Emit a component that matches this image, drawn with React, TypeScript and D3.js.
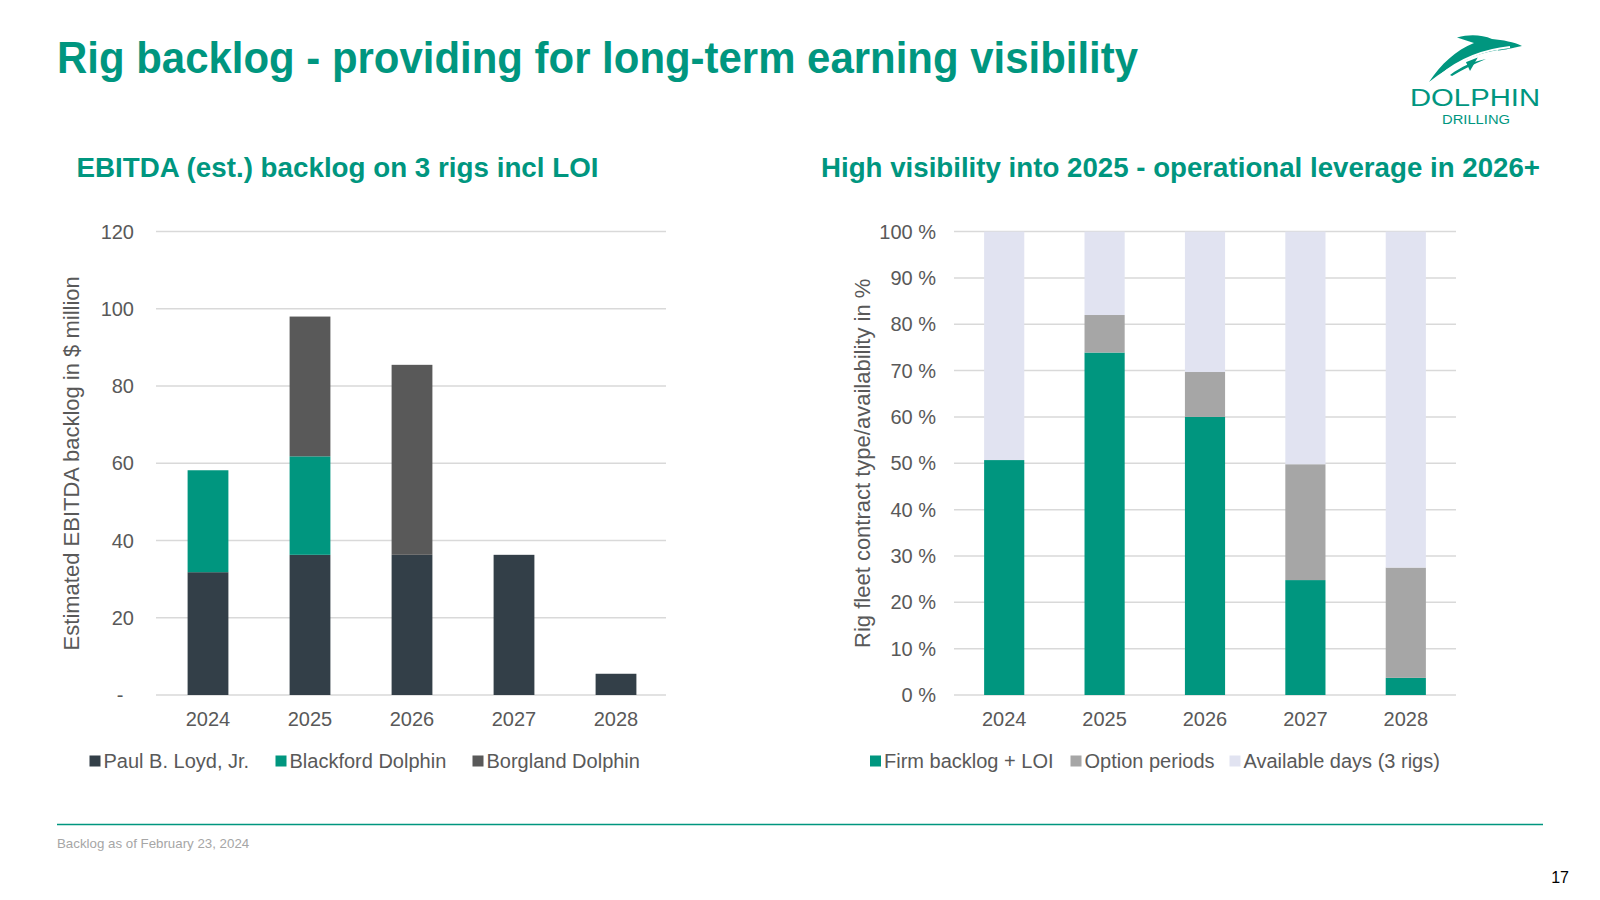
import React from "react";
import * as d3 from "d3";

const years = ["2024", "2025", "2026", "2027", "2028"];
const paulLoyd = [31.8, 36.3, 36.3, 36.3, 5.5];
const blackford = [26.4, 25.5, 0, 0, 0];
const borgland = [0, 36.2, 49.2, 0, 0];
const leftTicks = [0, 20, 40, 60, 80, 100, 120];

const firmBacklog = [50.7, 73.9, 60.0, 24.8, 3.7];
const optionPeriods = [0, 8.1, 9.7, 25.0, 23.8];
const availableDays = firmBacklog.map((f, i) => 100 - f - optionPeriods[i]);
const rightTicks = [0, 10, 20, 30, 40, 50, 60, 70, 80, 90, 100];

const leftSeries = [
  { name: "Paul B. Loyd, Jr.", values: paulLoyd, color: "#333F48" },
  { name: "Blackford Dolphin", values: blackford, color: "#00967F" },
  { name: "Borgland Dolphin", values: borgland, color: "#595959" },
];
const rightSeries = [
  { name: "Firm backlog + LOI", values: firmBacklog, color: "#00967F" },
  { name: "Option periods", values: optionPeriods, color: "#A6A6A6" },
  { name: "Available days (3 rigs)", values: availableDays, color: "#E1E3F1" },
];

const FONT = "'Liberation Sans', Arial, sans-serif";
const TEAL = "#00967F";
const GRID = "#D9D9D9";
const LABEL = "#595959";

function StackedChart({ series, ticks, domainMax, x0, x1, barShift, yTop, yBottom, tickFmt, tickX, zeroX, axisTitle, axisTitleX, legendX, legendY }: any) {
  const x = d3.scaleBand().domain(years).range([x0 + barShift, x1 + barShift]).paddingInner(0.6).paddingOuter(0.3);
  const y = d3.scaleLinear().domain([0, domainMax]).range([yBottom, yTop]);
  const stackData = years.map((yr, i) => {
    const o: any = { year: yr };
    series.forEach((s: any) => (o[s.name] = s.values[i]));
    return o;
  });
  const stacked = d3.stack().keys(series.map((s: any) => s.name))(stackData as any);
  return (
    <g>
      {ticks.map((t: number) => (
        <g key={t}>
          <line x1={x0} x2={x1} y1={y(t)} y2={y(t)} stroke={GRID} strokeWidth={1.5} />
          <text x={t === 0 && zeroX ? zeroX : tickX} y={y(t)} dy="0.35em" textAnchor="end" fontSize={20} fill={LABEL} fontFamily={FONT}>
            {tickFmt(t)}
          </text>
        </g>
      ))}
      {stacked.map((layer: any, li: number) => (
        <g key={li} fill={series[li].color}>
          {layer.map((d: any, i: number) =>
            d[1] - d[0] > 0 ? (
              <rect key={i} x={x(years[i])} width={x.bandwidth()} y={y(d[1])} height={y(d[0]) - y(d[1])} />
            ) : null
          )}
        </g>
      ))}
      {years.map((yr) => (
        <text key={yr} x={(x(yr) as number) + x.bandwidth() / 2} y={yBottom + 31} textAnchor="middle" fontSize={20} fill={LABEL} fontFamily={FONT}>
          {yr}
        </text>
      ))}
      <text transform={`translate(${axisTitleX},${(yTop + yBottom) / 2}) rotate(-90)`} textAnchor="middle" fontSize={22} fill={LABEL} fontFamily={FONT}>
        {axisTitle}
      </text>
      {series.map((s: any, i: number) => (
        <g key={s.name}>
          <rect x={legendX[i]} y={legendY - 5.5} width={11} height={11} fill={s.color} />
          <text x={legendX[i] + 14} y={legendY} dy="0.35em" fontSize={20} fill={LABEL} fontFamily={FONT}>
            {s.name}
          </text>
        </g>
      ))}
    </g>
  );
}

export default function App() {
  return (
    <svg width={1600} height={900} style={{ position: "absolute", left: 0, top: 0, background: "#fff" }}>
      <rect width={1600} height={900} fill="#fff" />
      <text x={57} y={73} fontSize={43.5} fontWeight="bold" fill={TEAL} fontFamily={FONT} textLength={1081} lengthAdjust="spacingAndGlyphs">
        Rig backlog - providing for long-term earning visibility
      </text>
      <text x={76.5} y={176.5} fontSize={28} fontWeight="bold" fill={TEAL} fontFamily={FONT} textLength={522} lengthAdjust="spacingAndGlyphs">
        EBITDA (est.) backlog on 3 rigs incl LOI
      </text>
      <text x={821} y={176.5} fontSize={28} fontWeight="bold" fill={TEAL} fontFamily={FONT} textLength={719} lengthAdjust="spacingAndGlyphs">
        High visibility into 2025 - operational leverage in 2026+
      </text>

      {/* logo */}
      <g fill={TEAL}>
        <path d="M1429,82 C1441,64 1456,50 1474,43 L1457,37.5 C1470,34 1482,35 1492,39 C1503,40 1514,42 1522,46 C1512,48 1505,50 1498,50.5 C1476,53 1452,64 1429,82 Z" />
        <path d="M1465,60 L1470,71 L1478,57 Z" />
        <path d="M1450,75 C1462,66 1472,62 1486,59 C1474,64 1464,69 1452,76 Z" />
        <path d="M1441,75 C1460,59 1482,50 1510,47" fill="none" stroke="#fff" strokeWidth={2.2} />
        <path d="M1456,66 C1470,58 1484,54 1498,51" fill="none" stroke="#fff" strokeWidth={1.8} />
        <text x={1410} y={106} fontSize={23.5} fontFamily={FONT} textLength={130} lengthAdjust="spacingAndGlyphs">DOLPHIN</text>
        <text x={1442} y={123.5} fontSize={12} fontFamily={FONT} textLength={68} lengthAdjust="spacingAndGlyphs">DRILLING</text>
      </g>

      <StackedChart
        series={leftSeries}
        ticks={leftTicks}
        domainMax={120}
        x0={156}
        x1={666}
        barShift={1}
        yTop={231.6}
        yBottom={695}
        tickFmt={(t: number) => (t === 0 ? "-" : String(t))}
        tickX={134}
        zeroX={123.5}
        axisTitle="Estimated EBITDA backlog in $ million"
        axisTitleX={79}
        legendX={[89.5, 275.5, 472.5]}
        legendY={761}
      />
      <StackedChart
        series={rightSeries}
        ticks={rightTicks}
        domainMax={100}
        x0={954}
        x1={1456}
        barShift={0}
        yTop={231.6}
        yBottom={695}
        tickFmt={(t: number) => `${t} %`}
        tickX={936}
        axisTitle="Rig fleet contract type/availability in %"
        axisTitleX={870}
        legendX={[870, 1070.5, 1229.5]}
        legendY={761}
      />

      <line x1={57} x2={1543} y1={824.5} y2={824.5} stroke={TEAL} strokeWidth={1.5} />
      <text x={57} y={843} dy="0.35em" fontSize={13.3} fill="#A6A6A6" fontFamily={FONT}>
        Backlog as of February 23, 2024
      </text>
      <text x={1569} y={877} dy="0.35em" textAnchor="end" fontSize={16} fill="#000" fontFamily={FONT}>
        17
      </text>
    </svg>
  );
}
